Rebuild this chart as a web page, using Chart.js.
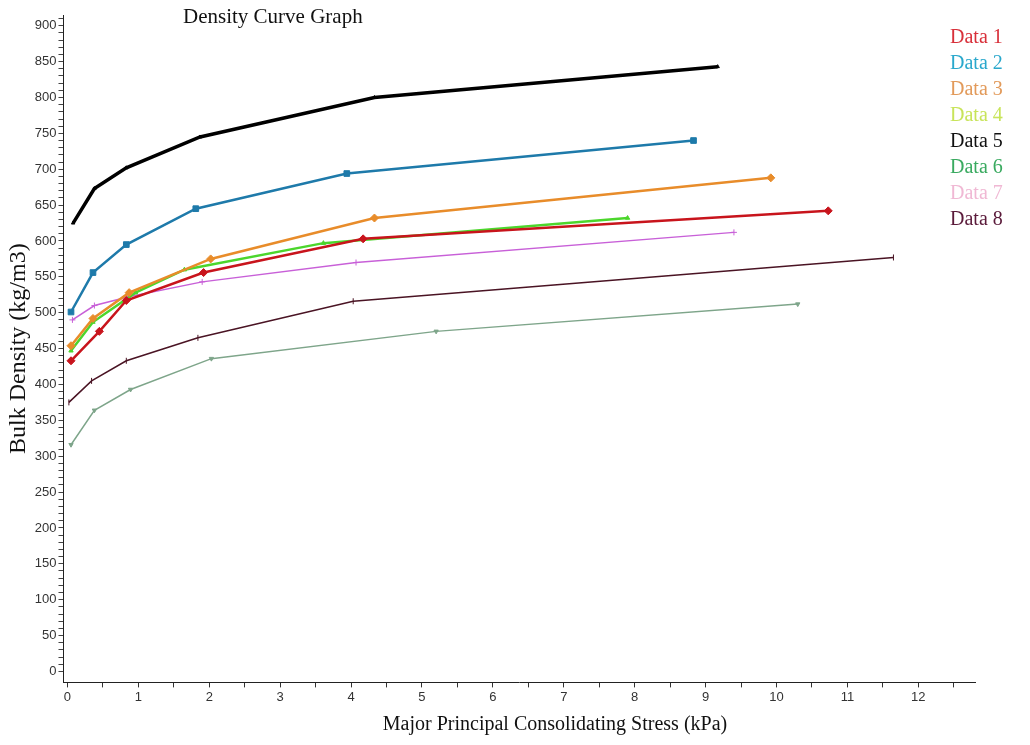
<!DOCTYPE html>
<html>
<head>
<meta charset="utf-8">
<title>Density Curve Graph</title>
<script src="https://cdn.jsdelivr.net/npm/chart.js@4.4.1/dist/chart.umd.min.js"></script>
<style>
  body { margin: 0; background: #fff; }
  #wrap { width: 1030px; height: 745px; }
</style>
</head>
<body>
<div id="wrap"><canvas id="chart" width="1030" height="745"></canvas></div>
<script>
// series names
const labels = ["Data 1", "Data 2", "Data 3", "Data 4", "Data 5", "Data 6", "Data 7", "Data 8"];

// stress (kPa) and bulk density (kg/m3)
const stress1 = [0.05, 0.45, 0.83, 1.92, 4.17, 10.73];
const density1 = [433, 474, 517, 556, 603, 642];
const stress2 = [0.05, 0.36, 0.83, 1.81, 3.94, 8.83];
const density2 = [501, 556, 595, 645, 694, 740];
const stress3 = [0.05, 0.36, 0.87, 2.02, 4.33, 9.92];
const density3 = [454, 492, 528, 575, 632, 688];
const stress4 = [0.05, 0.36, 0.96, 1.65, 3.61, 7.9];
const density4 = [447, 487, 528, 560, 597, 632];
const stress5 = [0.08, 0.38, 0.83, 1.87, 4.33, 9.17];
const density5 = [625, 673, 702, 745, 800, 843];
const stress6 = [0.05, 0.38, 0.89, 2.03, 5.2, 10.3];
const density6 = [316, 364, 393, 436, 474, 512];
const stress7 = [0.07, 0.38, 0.85, 1.9, 4.07, 9.4];
const density7 = [490, 510, 522, 543, 570, 612];
const stress8 = [0.02, 0.34, 0.83, 1.84, 4.03, 11.65];
const density8 = [375, 405, 433, 465, 516, 577];

const allStress = [stress1, stress2, stress3, stress4, stress5, stress6, stress7, stress8];
const allDensity = [density1, density2, density3, density4, density5, density6, density7, density8];

// axis tick labels
const yTickLabels = [0, 50, 100, 150, 200, 250, 300, 350, 400, 450, 500, 550, 600, 650, 700, 750, 800, 850, 900];
const xTickLabels = [0, 1, 2, 3, 4, 5, 6, 7, 8, 9, 10, 11, 12];

// looks
const lineColors = ["#c8141c", "#1e7aaa", "#e88c2a", "#4cd62c", "#000000", "#7ea58a", "#c860d8", "#4a1424"];
const legendColors = ["#d8303a", "#2aa8cc", "#e29a5a", "#c8e45a", "#111111", "#3aaa60", "#f0b8d4", "#5a1a3a"];
const lineWidths = [2.5, 2.5, 2.5, 2.5, 3.5, 1.5, 1.5, 1.5];
const markers = ["rectRot", "rect", "rectRot", "triangle", "triangle", "triangle", "cross", "line"];
const markerSizes = [4, 4, 4, 2.5, 2, 2.5, 3, 3];
const markerTurns = [0, 0, 0, 0, 0, 180, 0, 90];

const serif = '"Liberation Serif", "Times New Roman", serif';
const tickFont = '"Liberation Sans Narrow", "Arial Narrow", "Liberation Sans", sans-serif';

// build datasets
const datasets = labels.map((name, i) => ({
  label: name,
  data: allStress[i].map((x, j) => ({ x: x, y: allDensity[i][j] })),
  showLine: true,
  borderColor: lineColors[i],
  backgroundColor: lineColors[i],
  borderWidth: lineWidths[i],
  pointStyle: markers[i],
  pointRadius: markerSizes[i],
  pointRotation: markerTurns[i],
  pointBorderWidth: 1,
  tension: 0,
}));

// draws the title, legend and bottom axis title
const textPlugin = {
  id: "texts",
  afterDraw(chart) {
    const ctx = chart.ctx;
    ctx.save();
    ctx.textBaseline = "middle";
    ctx.textAlign = "left";
    ctx.fillStyle = "#111";
    ctx.font = "21px " + serif;
    ctx.fillText("Density Curve Graph", 183, 17);

    ctx.font = "20px " + serif;
    chart.data.datasets.forEach((ds, i) => {
      ctx.fillStyle = legendColors[i];
      ctx.fillText(ds.label, 950, 38 + i * 26);
    });

    ctx.fillStyle = "#111";
    ctx.textAlign = "center";
    ctx.font = "20px " + serif;
    ctx.fillText("Major Principal Consolidating Stress (kPa)", 555, 725);
    ctx.restore();
  },
};

const ctx = document.getElementById("chart").getContext("2d");
const chart = new Chart(ctx, {
  type: "scatter",
  data: { datasets: datasets },
  options: {
    responsive: false,
    animation: false,
    layout: { padding: { top: 15, right: 55, bottom: 38, left: 0 } },
    plugins: {
      legend: { display: false },
      tooltip: { enabled: false },
    },
    scales: {
      x: {
        type: "linear",
        min: -0.056,
        max: 12.8,
        afterBuildTicks: (scale) => {
          const out = [];
          for (let v = 0; v <= 12.75; v += 0.5) out.push({ value: v });
          scale.ticks = out;
        },
        ticks: {
          autoSkip: false,
          maxRotation: 0,
          padding: 2,
          color: "#333",
          font: { family: tickFont, size: 13 },
          callback: (v) => (xTickLabels.includes(v) ? String(v) : ""),
        },
        grid: { drawOnChartArea: false, tickLength: 5, color: "#333" },
        border: { color: "#222", width: 1 },
      },
      y: {
        type: "linear",
        min: -15.3,
        max: 915,
        afterBuildTicks: (scale) => {
          const out = [];
          for (let v = 0; v <= 910; v += 10) out.push({ value: v });
          scale.ticks = out;
        },
        ticks: {
          autoSkip: false,
          padding: 2,
          color: "#333",
          font: { family: tickFont, size: 13 },
          callback: (v) => (yTickLabels.includes(v) ? String(v) : ""),
        },
        grid: { drawOnChartArea: false, tickLength: 5, color: "#444" },
        border: { color: "#222", width: 1 },
        title: {
          display: true,
          text: "Bulk Density (kg/m3)",
          color: "#111",
          font: { family: serif, size: 24 },
          padding: { top: 4, bottom: 0 },
        },
      },
    },
  },
  plugins: [textPlugin],
});
</script>
</body>
</html>
